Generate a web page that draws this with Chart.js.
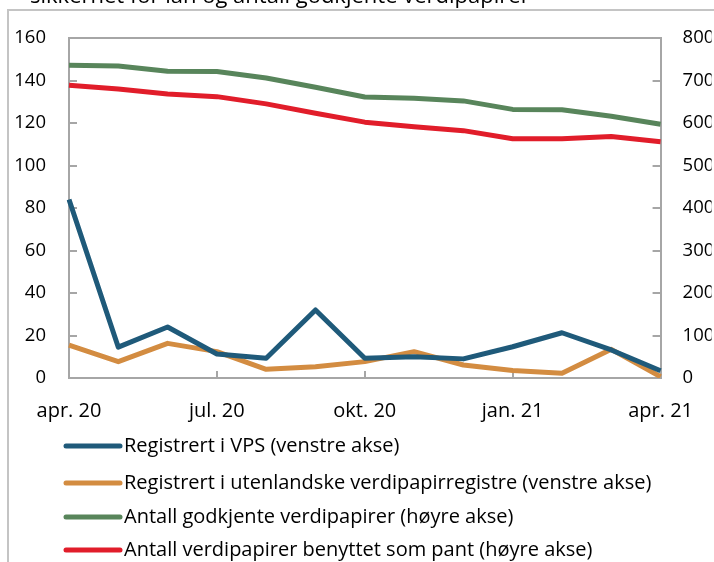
<!DOCTYPE html>
<html><head><meta charset="utf-8">
<script src="https://cdn.jsdelivr.net/npm/chart.js@4"></script>
<style>html,body{margin:0;padding:0;background:#fff;overflow:hidden}#wrap{position:relative;width:714px;height:562px}</style>
</head><body><div id="wrap"><canvas id="c" width="714" height="562"></canvas></div>
<script>
const titleText = 'sikkerhet for lån og antall godkjente verdipapirer';
const categories = ['apr. 20','mai 20','jun. 20','jul. 20','aug. 20','sep. 20','okt. 20','nov. 20','des. 20','jan. 21','feb. 21','mar. 21','apr. 21'];
const xTickLabels = ['apr. 20','jul. 20','okt. 20','jan. 21','apr. 21'];
const leftTicks = [0,20,40,60,80,100,120,140,160];
const rightTicks = [0,100,200,300,400,500,600,700,800];
const seriesNames = [
  'Registrert i VPS (venstre akse)',
  'Registrert i utenlandske verdipapirregistre (venstre akse)',
  'Antall godkjente verdipapirer (høyre akse)',
  'Antall verdipapirer benyttet som pant (høyre akse)'
];
const vps = [84, 14.5, 24, 11.3, 9.3, 32, 9.3, 10, 9, 14.7, 21.3, 13.2, 3.4];
const utenlandske = [15.5, 7.7, 16.3, 12.4, 4.1, 5.3, 7.7, 12.4, 6.1, 3.5, 2.2, 13.5, 0.6];
const godkjente = [736, 734, 722, 721, 706, 684, 661, 658, 652, 632, 631, 616, 597];
const pant = [689, 680, 668, 662, 645, 623, 602, 591, 582, 563, 563, 568, 556];

const colors = ['#1f5a7a', '#d38c41', '#58855b', '#e11d2a'];
const axisGray = '#a6a6a6';
const FONT = "'Open Sans', sans-serif";

const decor = {
  id: 'decor',
  beforeDraw(chart) {
    const ctx = chart.ctx;
    ctx.save();
    ctx.strokeStyle = '#c4c4c4';
    ctx.lineWidth = 2;
    ctx.beginPath();
    ctx.moveTo(8, 562); ctx.lineTo(8, 10); ctx.lineTo(714, 10);
    ctx.stroke();
    ctx.fillStyle = '#000';
    ctx.font = "22px " + FONT;
    ctx.textBaseline = 'alphabetic';
    ctx.fillText(titleText, 30, 3);
    ctx.restore();
  },
  beforeDatasetsDraw(chart) {
    const ctx = chart.ctx, a = chart.chartArea;
    const y = chart.scales.y, y1 = chart.scales.y1, x = chart.scales.x;
    ctx.save();
    ctx.strokeStyle = axisGray;
    ctx.lineWidth = 2;
    ctx.beginPath();
    leftTicks.forEach(v => { const p = Math.round(y.getPixelForValue(v)); ctx.moveTo(a.left, p); ctx.lineTo(a.left + 8, p); });
    rightTicks.forEach(v => { const p = Math.round(y1.getPixelForValue(v)); ctx.moveTo(a.right, p); ctx.lineTo(a.right - 8, p); });
    categories.forEach((c, i) => { if (xTickLabels.includes(c)) { const p = Math.round(x.getPixelForValue(i)); ctx.moveTo(p, a.bottom); ctx.lineTo(p, a.bottom - 7); } });
    ctx.stroke();
    ctx.restore();
  },
  afterDraw(chart) {
    const ctx = chart.ctx;
    const rows = [446, 483, 517, 550];
    ctx.save();
    ctx.font = "20px " + FONT;
    ctx.textBaseline = 'middle';
    chart.data.datasets.forEach((ds, i) => {
      ctx.strokeStyle = ds.borderColor;
      ctx.lineWidth = 5;
      ctx.lineCap = 'round';
      ctx.beginPath();
      ctx.moveTo(66, rows[i]); ctx.lineTo(120, rows[i]);
      ctx.stroke();
      ctx.fillStyle = '#000';
      ctx.fillText(ds.label, 124, rows[i]);
    });
    ctx.restore();
  }
};

const mk = (i, data, axis) => ({
  label: seriesNames[i], data, yAxisID: axis,
  borderColor: colors[i], backgroundColor: colors[i],
  borderWidth: 5, pointRadius: 0, tension: 0, fill: false,
  borderJoinStyle: 'round', borderCapStyle: 'butt'
});

new Chart(document.getElementById('c'), {
  type: 'line',
  data: {
    labels: categories,
    datasets: [
      mk(0, vps, 'y'),
      mk(1, utenlandske, 'y'),
      mk(2, godkjente, 'y1'),
      mk(3, pant, 'y1')
    ]
  },
  options: {
    responsive: false, animation: false, devicePixelRatio: 1,
    layout: { padding: 0 },
    plugins: { legend: { display: false }, tooltip: { enabled: false }, title: { display: false } },
    scales: {
      x: {
        type: 'category', position: 'bottom', offset: false,
        grid: { display: false, drawTicks: false },
        border: { display: true, color: axisGray, width: 2 },
        ticks: {
          autoSkip: false, maxRotation: 0, padding: 21, color: '#000',
          font: { family: FONT, size: 20 },
          callback: function (v) { const l = this.getLabelForValue(v); return xTickLabels.includes(l) ? l : ''; }
        },
        afterFit: s => { s.height = 184; }
      },
      xTop: {
        type: 'category', position: 'top', offset: false, labels: categories,
        grid: { display: false, drawTicks: false },
        border: { display: true, color: axisGray, width: 2 },
        ticks: { display: false },
        afterFit: s => { s.height = 38; }
      },
      y: {
        position: 'left', min: 0, max: 160,
        afterBuildTicks: s => { s.ticks = leftTicks.map(v => ({ value: v })); },
        grid: { display: false, drawTicks: false },
        border: { display: true, color: axisGray, width: 2 },
        ticks: { padding: 23, color: '#000', font: { family: FONT, size: 18.5 } },
        afterFit: s => { s.width = 69; }
      },
      y1: {
        position: 'right', min: 0, max: 800,
        afterBuildTicks: s => { s.ticks = rightTicks.map(v => ({ value: v })); },
        grid: { display: false, drawTicks: false },
        border: { display: true, color: axisGray, width: 2 },
        ticks: { padding: 22, color: '#000', font: { family: FONT, size: 18.5 } },
        afterFit: s => { s.width = 51; }
      }
    }
  },
  plugins: [decor]
});
</script></body></html>
